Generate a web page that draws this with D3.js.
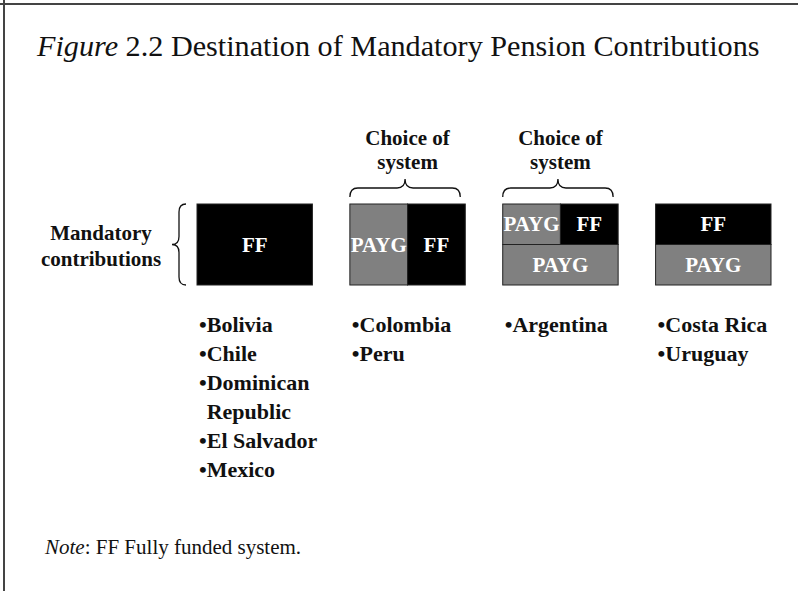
<!DOCTYPE html>
<html>
<head>
<meta charset="utf-8">
<script src="https://cdn.jsdelivr.net/npm/d3@7"></script>
<style>
  html, body { margin: 0; padding: 0; background: #fff; }
  svg { display: block; }
  text { font-family: "Liberation Serif", "Times New Roman", serif; fill: #111; }
</style>
</head>
<body>
<svg id="chart" width="798" height="591"></svg>
<script>
var titleItalic = 'Figure';
var titleRest = ' 2.2 Destination of Mandatory Pension Contributions';
var rowLabel = ['Mandatory', 'contributions'];
var choiceLabel = ['Choice of', 'system'];
var noteItalic = 'Note';
var noteRest = ': FF Fully funded system.';

var groups = ['single', 'choice', 'choiceMixed', 'mixed'];
// each box is a list of rows, each row the systems side by side
var boxes = [
  [['FF']],
  [['PAYG', 'FF']],
  [['PAYG', 'FF'], ['PAYG']],
  [['FF'], ['PAYG']]
];
var hasChoice = [false, true, true, false];
var countries = [
  ['Bolivia', 'Chile', 'Dominican Republic', 'El Salvador', 'Mexico'],
  ['Colombia', 'Peru'],
  ['Argentina'],
  ['Costa Rica', 'Uruguay']
];
var systemColor = { FF: '#000000', PAYG: '#808080' };

var width = 798, height = 591;
var boxTop = 204, boxBottom = 285;
var svg = d3.select('#chart');

var x = d3.scaleBand().domain(groups).range([197, 771]).paddingInner(0.245);
var bw = x.bandwidth();

// frame lines (top and left only)
svg.append('line')
  .attr('x1', 0).attr('x2', width).attr('y1', 4).attr('y2', 4)
  .attr('stroke', '#444').attr('stroke-width', 2);
svg.append('line')
  .attr('x1', 4).attr('x2', 4).attr('y1', 0).attr('y2', height)
  .attr('stroke', '#444').attr('stroke-width', 2);

// title, sized to span the same width as the original
var title = svg.append('text')
  .attr('x', 37).attr('y', 56)
  .style('font-size', '30px');
title.append('tspan').style('font-style', 'italic').text(titleItalic);
title.append('tspan').text(titleRest);
var tw = title.node().getComputedTextLength();
title.style('font-size', (30 * 723 / tw) + 'px');

// boxes
var boxG = svg.selectAll('g.box')
  .data(boxes)
  .join('g')
  .attr('class', 'box');

boxG.each(function(rows, i) {
  var g = d3.select(this);
  var x0 = x(groups[i]);
  var yRow = d3.scaleBand().domain(d3.range(rows.length)).range([boxTop, boxBottom]);
  rows.forEach(function(row, r) {
    var xCol = d3.scaleBand().domain(d3.range(row.length)).range([x0, x0 + bw]);
    row.forEach(function(sys, c) {
      g.append('rect')
        .attr('x', xCol(c))
        .attr('y', yRow(r))
        .attr('width', xCol.bandwidth())
        .attr('height', yRow.bandwidth())
        .attr('fill', systemColor[sys])
        .attr('stroke', '#222')
        .attr('stroke-width', 1);
      g.append('text')
        .attr('x', xCol(c) + xCol.bandwidth() / 2)
        .attr('y', yRow(r) + yRow.bandwidth() / 2 + 7)
        .attr('text-anchor', 'middle')
        .style('font-size', '21px')
        .style('font-weight', 'bold')
        .style('fill', '#fff')
        .text(sys);
    });
  });
});

// horizontal curly brace, peak upward in the middle
function hBrace(x1, x2, y) {
  var xm = (x1 + x2) / 2;
  return 'M' + x1 + ',' + (y + 9) +
    'Q' + x1 + ',' + y + ' ' + (x1 + 8) + ',' + y +
    'L' + (xm - 8) + ',' + y +
    'Q' + xm + ',' + y + ' ' + xm + ',' + (y - 9) +
    'Q' + xm + ',' + y + ' ' + (xm + 8) + ',' + y +
    'L' + (x2 - 8) + ',' + y +
    'Q' + x2 + ',' + y + ' ' + x2 + ',' + (y + 9);
}

// vertical curly brace, cusp to the left
function vBrace(x, y1, y2) {
  var ym = (y1 + y2) / 2;
  return 'M' + (x + 7) + ',' + y1 +
    'Q' + x + ',' + y1 + ' ' + x + ',' + (y1 + 8) +
    'L' + x + ',' + (ym - 8) +
    'Q' + x + ',' + ym + ' ' + (x - 7) + ',' + ym +
    'Q' + x + ',' + ym + ' ' + x + ',' + (ym + 8) +
    'L' + x + ',' + (y2 - 8) +
    'Q' + x + ',' + y2 + ' ' + (x + 7) + ',' + y2;
}

var choiceGroups = groups.filter(function(g, i) { return hasChoice[i]; });

svg.selectAll('path.choice-brace')
  .data(choiceGroups)
  .join('path')
  .attr('class', 'choice-brace')
  .attr('d', function(g) { return hBrace(x(g), x(g) + bw - 5, boxTop - 16); })
  .attr('fill', 'none')
  .attr('stroke', '#111')
  .attr('stroke-width', 1.3);

svg.selectAll('text.choice-label')
  .data(choiceGroups)
  .join('text')
  .attr('class', 'choice-label')
  .attr('x', function(g) { return x(g) + bw / 2; })
  .attr('text-anchor', 'middle')
  .style('font-size', '21px')
  .style('font-weight', 'bold')
  .each(function() {
    var t = d3.select(this);
    choiceLabel.forEach(function(line, k) {
      t.append('tspan')
        .attr('x', t.attr('x'))
        .attr('y', 145 + k * 24)
        .text(line);
    });
  });

// row label and its brace
svg.append('path')
  .attr('d', vBrace(179, boxTop, boxBottom))
  .attr('fill', 'none')
  .attr('stroke', '#111')
  .attr('stroke-width', 1.3);

svg.append('text')
  .attr('text-anchor', 'middle')
  .style('font-size', '21px')
  .style('font-weight', 'bold')
  .selectAll('tspan')
  .data(rowLabel)
  .join('tspan')
  .attr('x', 101)
  .attr('y', function(d, k) { return 240 + k * 26; })
  .text(function(d) { return d; });

// country lists, wrapped to the column width
var yLine = d3.scaleLinear().domain([0, 1]).range([332, 361]);
var maxW = x.step() - 14;
var measure = svg.append('text')
  .style('font-size', '22px').style('font-weight', 'bold')
  .attr('visibility', 'hidden');
function textW(s) { measure.text(s); return measure.node().getComputedTextLength(); }
var bulletW = textW('\u2022');

countries.forEach(function(list, i) {
  var lines = [];
  list.forEach(function(name) {
    var words = name.split(' ');
    var cur = '\u2022' + words[0];
    var first = true;
    for (var k = 1; k < words.length; k++) {
      if (textW(cur + ' ' + words[k]) > maxW) {
        lines.push({ text: cur, indent: !first });
        first = false;
        cur = words[k];
      } else {
        cur += ' ' + words[k];
      }
    }
    lines.push({ text: cur, indent: !first });
  });
  svg.append('g')
    .attr('class', 'country-list')
    .selectAll('text')
    .data(lines)
    .join('text')
    .attr('x', function(d) { return x(groups[i]) + 2 + (d.indent ? bulletW : 0); })
    .attr('y', function(d, k) { return yLine(k); })
    .style('font-size', '22px')
    .style('font-weight', 'bold')
    .text(function(d) { return d.text; });
});
measure.remove();

// note
var note = svg.append('text')
  .attr('x', 45).attr('y', 554)
  .style('font-size', '21px');
note.append('tspan').style('font-style', 'italic').text(noteItalic);
note.append('tspan').text(noteRest);
</script>
</body>
</html>
